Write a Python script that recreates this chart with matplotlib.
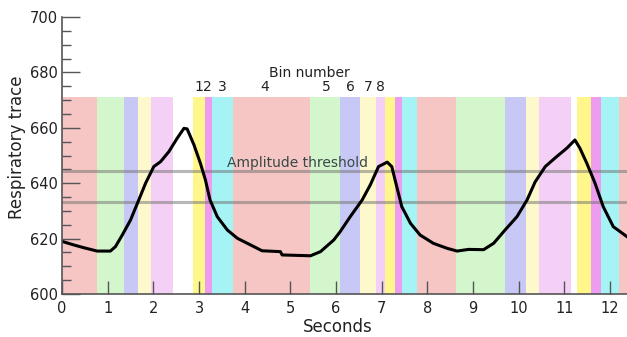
import numpy as np
import matplotlib.pyplot as plt
from matplotlib.ticker import MultipleLocator

# Respiratory trace (seconds, trace value)
t_trace = [0.0, 0.26, 0.48, 0.77, 1.06, 1.17, 1.32, 1.50, 1.68, 1.83, 2.01, 2.16,
           2.34, 2.52, 2.67, 2.74, 2.89, 3.03, 3.14, 3.24, 3.40, 3.62, 3.84, 4.13,
           4.38, 4.78, 4.82, 5.44, 5.66, 5.95, 6.09, 6.31, 6.57, 6.75, 6.93, 7.12,
           7.22, 7.33, 7.44, 7.63, 7.84, 8.13, 8.43, 8.65, 8.90, 9.23, 9.45, 9.70,
           9.96, 10.18, 10.36, 10.58, 10.83, 11.05, 11.23, 11.34, 11.49, 11.67,
           11.85, 12.07, 12.37]
v_trace = [619.0, 617.7, 616.7, 615.5, 615.5, 617.1, 621.3, 626.7, 633.9, 640.0,
           646.0, 647.8, 651.4, 656.2, 659.8, 659.6, 653.8, 647.2, 641.2, 634.0,
           627.9, 623.1, 620.1, 617.7, 615.6, 615.3, 614.1, 613.8, 615.3, 619.5,
           622.5, 627.9, 633.9, 639.4, 646.0, 647.6, 646.0, 638.7, 631.5, 625.5,
           621.3, 618.3, 616.5, 615.5, 616.1, 616.0, 618.3, 623.1, 627.9, 633.9,
           640.5, 646.0, 649.6, 652.6, 655.6, 652.6, 647.2, 640.0, 631.5, 624.3,
           620.7]

# Bin bands: edges in seconds and bin number of each segment (0 = no bin)
band_edges = [0, 0.77, 1.35, 1.66, 1.95, 2.42, 2.87, 3.12, 3.28, 3.75, 5.44, 6.09,
              6.53, 6.87, 7.08, 7.28, 7.45, 7.78, 8.63, 9.70, 10.16, 10.45, 11.14,
              11.28, 11.59, 11.80, 12.19, 12.37]
band_bins = [4, 5, 6, 7, 8, 0, 1, 2, 3,
             4, 5, 6, 7, 8, 1, 2, 3,
             4, 5, 6, 7, 8, 0, 1, 2, 3, 4]
band_top = 671

bin_colors = {0: 'white', 1: '#fff68c', 2: '#ee9cf0', 3: '#a6f3f6', 4: '#f5c6c4',
              5: '#d3f6cc', 6: '#c8c8f6', 7: '#fef9cc', 8: '#f4cff6'}

bin_labels = ['1', '2', '3', '4', '5', '6', '7', '8']
bin_label_x = [2.99, 3.19, 3.51, 4.43, 5.78, 6.31, 6.71, 6.97]

thresholds = [644.4, 633.1]

fig = plt.figure(figsize=(6.27, 3.37), dpi=100)
ax = fig.add_axes([62 / 627, 43 / 337, 565 / 627, 277 / 337])

# colored bins
starts = np.array(band_edges[:-1])
widths = np.diff(band_edges)
ax.bar(starts, band_top - 600, width=widths, bottom=600, align='edge',
       color=[bin_colors[b] for b in band_bins], linewidth=0)

for y in thresholds:
    ax.axhline(y, color='#707070', alpha=0.5, lw=2.2)

ax.plot(t_trace, v_trace, color='black', lw=2.2)

for lab, x in zip(bin_labels, bin_label_x):
    ax.text(x, band_top + 1.3, lab, ha='center', va='bottom', fontsize=10, color='#222222')
ax.text(5.42, 679.9, 'Bin number', ha='center', va='center', fontsize=10, color='#222222')
ax.text(5.15, 647.3, 'Amplitude threshold', ha='center', va='center', fontsize=10,
        color='#3a4848')

ax.set_xlim(0, 12.37)
ax.set_ylim(600, 700)
ax.set_xticks(range(0, 13))
ax.set_yticks(range(600, 701, 20))
ax.yaxis.set_minor_locator(MultipleLocator(5))

for s in ['top', 'right']:
    ax.spines[s].set_visible(False)
for s in ['left', 'bottom']:
    ax.spines[s].set_color('#555555')
    ax.spines[s].set_linewidth(1.2)

ax.tick_params(axis='y', which='major', direction='in', length=13, width=1, color='#555555',
               labelsize=10.5, pad=3, labelcolor='#222222')
ax.tick_params(axis='y', which='minor', direction='in', length=6.5, width=1, color='#555555')
ax.tick_params(axis='x', which='major', direction='in', length=9.5, width=1, color='#555555',
               labelsize=10.5, pad=5, labelcolor='#222222')

ax.set_xlabel('Seconds', fontsize=12, color='#222222')
ax.xaxis.set_label_coords((338 - 62) / 565, -0.088)
ax.set_ylabel('Respiratory trace', fontsize=12, color='#222222')
ax.yaxis.set_label_coords(-0.063, 0.53)

plt.savefig('out.png', dpi=100)
